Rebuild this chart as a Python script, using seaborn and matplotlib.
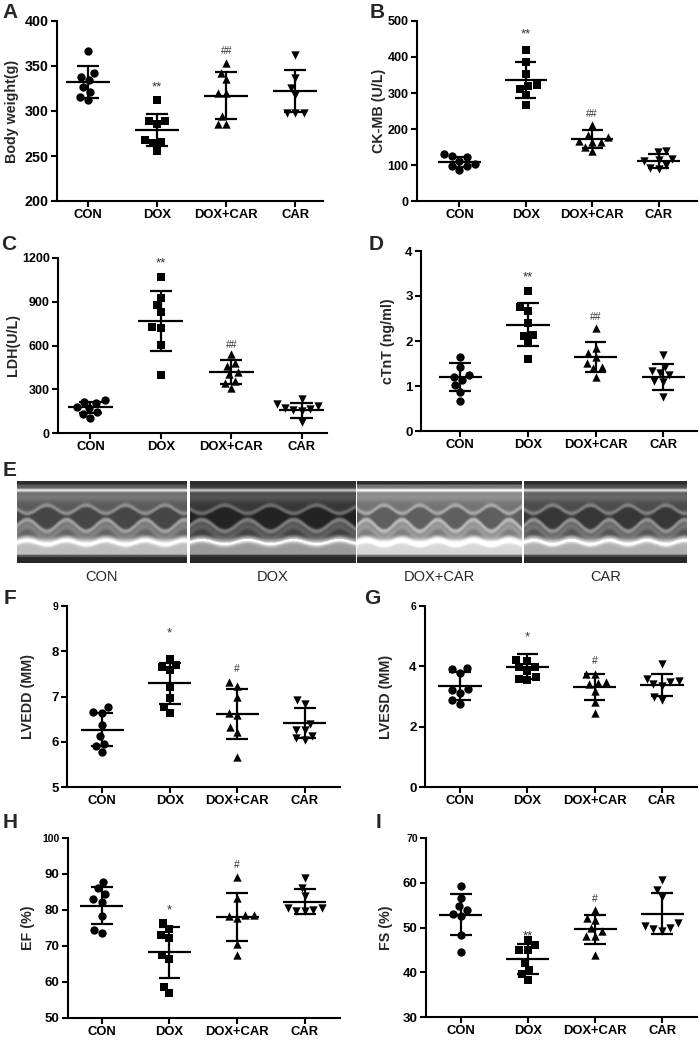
import numpy as np
import matplotlib
matplotlib.use("Agg")
import matplotlib.pyplot as plt
import seaborn as sns

sns.set_theme(style="ticks")
plt.rcParams["font.family"] = ["Liberation Sans", "DejaVu Sans"]

groups = ["CON", "DOX", "DOX+CAR", "CAR"]
markers = ["o", "s", "^", "v"]

# ---- A: body weight (g)
bw_con = [367, 342, 338, 334, 327, 321, 316, 312]
bw_dox = [312, 289, 289, 285, 268, 266, 264, 256]
bw_dc = [353, 342, 335, 320, 320, 294, 286, 286]
bw_car = [362, 337, 326, 318, 298, 298, 298]
bw_mean = [332, 279, 317, 322]
bw_sd = [18, 18, 26, 23]

# ---- B: CK-MB (U/L)
ck_con = [131, 124, 123, 112, 103, 98, 97, 86]
ck_dox = [419, 387, 354, 322, 319, 311, 294, 267]
ck_dc = [211, 184, 178, 168, 165, 163, 150, 138]
ck_car = [138, 137, 118, 114, 110, 100, 92, 90]
ck_mean = [108, 336, 172, 111]
ck_sd = [13, 50, 25, 20]

# ---- C: LDH (U/L)
ldh_con = [223, 216, 205, 175, 171, 141, 130, 102]
ldh_dox = [1070, 927, 877, 827, 724, 717, 604, 399]
ldh_dc = [540, 478, 460, 421, 405, 360, 346, 307]
ldh_car = [232, 200, 187, 171, 164, 155, 148, 73]
ldh_mean = [175, 770, 421, 155]
ldh_sd = [40, 206, 82, 52]

# ---- D: cTnT (ng/ml)
ct_con = [1.64, 1.43, 1.24, 1.21, 1.13, 1.02, 0.87, 0.67]
ct_dox = [3.12, 2.75, 2.67, 2.41, 2.13, 2.12, 1.95, 1.61]
ct_dc = [2.30, 1.85, 1.73, 1.65, 1.52, 1.43, 1.39, 1.21]
ct_car = [1.69, 1.43, 1.33, 1.28, 1.24, 1.11, 1.10, 0.76]
ct_mean = [1.20, 2.36, 1.65, 1.21]
ct_sd = [0.31, 0.48, 0.33, 0.29]

# ---- F: LVEDD (MM)
edd_con = [6.77, 6.66, 6.64, 6.36, 6.12, 5.96, 5.90, 5.77]
edd_dox = [7.82, 7.70, 7.65, 7.58, 7.21, 6.97, 6.77, 6.64]
edd_dc = [7.31, 7.23, 6.98, 6.64, 6.59, 6.33, 6.22, 5.66]
edd_car = [6.93, 6.84, 6.40, 6.27, 6.25, 6.12, 6.08, 6.03]
edd_mean = [6.27, 7.29, 6.62, 6.42]
edd_sd = [0.37, 0.45, 0.55, 0.33]

# ---- G: LVESD (MM)
esd_con = [3.95, 3.91, 3.77, 3.25, 3.22, 3.11, 2.89, 2.76]
esd_dox = [4.22, 4.17, 3.99, 3.97, 3.85, 3.64, 3.58, 3.55]
esd_dc = [3.75, 3.73, 3.47, 3.44, 3.40, 3.18, 2.83, 2.45]
esd_car = [4.08, 3.58, 3.51, 3.47, 3.40, 3.35, 3.00, 2.87]
esd_mean = [3.34, 3.99, 3.30, 3.39]
esd_sd = [0.46, 0.42, 0.43, 0.36]

# ---- H: EF (%)
ef_con = [87.9, 86.0, 84.5, 83.0, 82.3, 78.2, 74.5, 73.5]
ef_dox = [76.3, 74.7, 73.1, 72.2, 67.5, 66.4, 58.6, 56.9]
ef_dc = [89.1, 83.3, 78.6, 78.6, 78.4, 77.7, 70.6, 67.5]
ef_car = [88.8, 86.2, 84.0, 80.5, 80.5, 80.0, 79.8, 79.6]
ef_mean = [81.2, 68.2, 78.1, 82.3]
ef_sd = [5.2, 7.2, 6.7, 3.4]

# ---- I: FS (%)
fs_con = [59.2, 56.7, 54.7, 53.9, 53.1, 52.5, 48.3, 44.6]
fs_dox = [47.3, 46.1, 45.0, 45.0, 42.1, 40.5, 39.6, 38.3]
fs_dc = [54.0, 52.2, 51.6, 49.8, 49.3, 48.1, 48.1, 43.9]
fs_car = [60.7, 58.3, 56.8, 50.9, 50.3, 50.0, 49.6, 49.3]
fs_mean = [52.9, 43.0, 49.6, 53.1]
fs_sd = [4.6, 3.3, 3.2, 4.6]

# significance labels: (group index, text, y)
sig_A = [(1, "**", 326), (2, "##", 367)]
sig_B = [(1, "**", 462), (2, "##", 243)]
sig_C = [(1, "**", 1162), (2, "##", 604)]
sig_D = [(1, "**", 3.41), (2, "##", 2.53)]
sig_F = [(1, "*", 8.40), (2, "#", 7.60)]
sig_G = [(1, "*", 4.96), (2, "#", 4.19)]
sig_H = [(1, "*", 79.8), (2, "#", 92.5)]
sig_I = [(1, "**", 47.9), (2, "#", 56.4)]

W, H = 699, 1040
fig = plt.figure(figsize=(W / 100, H / 100), dpi=100)
fig.patch.set_facecolor("white")


def rect(x0, y0, x1, y1):
    return [x0 / W, 1 - y1 / H, (x1 - x0) / W, (y1 - y0) / H]


panels = [
    ("A", (57, 21, 323, 201), (-0.45, 3.4), (200, 400), [200, 250, 300, 350, 400], "Body weight(g)",
     [bw_con, bw_dox, bw_dc, bw_car], bw_mean, bw_sd, sig_A, (10, 13), False, 12, 10.3),
    ("B", (417, 21, 697, 201), (-0.64, 3.58), (0, 500), [0, 100, 200, 300, 400, 500], "CK-MB (U/L)",
     [ck_con, ck_dox, ck_dc, ck_car], ck_mean, ck_sd, sig_B, (377, 13), False, 379, 9),
    ("C", (58, 258, 327, 433), (-0.46, 3.36), (0, 1200), [0, 300, 600, 900, 1200], "LDH(U/L)",
     [ldh_con, ldh_dox, ldh_dc, ldh_car], ldh_mean, ldh_sd, sig_C, (9, 245), False, 13, 9),
    ("D", (421, 251, 697, 431), (-0.58, 3.5), (0, 4), [0, 1, 2, 3, 4], "cTnT (ng/ml)",
     [ct_con, ct_dox, ct_dc, ct_car], ct_mean, ct_sd, sig_D, (376, 245), False, 388, 9.5),
    ("F", (67, 606, 340, 787), (-0.52, 3.52), (5, 9), [5, 6, 7, 8, 9], "LVEDD (MM)",
     [edd_con, edd_dox, edd_dc, edd_car], edd_mean, edd_sd, sig_F, (10, 598), True, 28, 9.5),
    ("G", (425, 606, 697, 787), (-0.52, 3.52), (0, 6), [0, 2, 4, 6], "LVESD (MM)",
     [esd_con, esd_dox, esd_dc, esd_car], esd_mean, esd_sd, sig_G, (372, 598), True, 386, 9.5),
    ("H", (68, 838, 340, 1018), (-0.5, 3.52), (50, 100), [50, 60, 70, 80, 90, 100], "EF (%)",
     [ef_con, ef_dox, ef_dc, ef_car], ef_mean, ef_sd, sig_H, (10, 823), True, 28, 9.5),
    ("I", (426, 838, 697, 1017), (-0.52, 3.52), (30, 70), [30, 40, 50, 60, 70], "FS (%)",
     [fs_con, fs_dox, fs_dc, fs_car], fs_mean, fs_sd, sig_I, (378, 823), True, 386, 9.5),
]

for (letter, r, xl, yl, yt, ylab, data, means, sds, sigs, lpos, small_top, labx, ysz) in panels:
    ax = fig.add_axes(rect(*r))
    for i, (g, vals, m) in enumerate(zip(groups, data, markers)):
        sns.swarmplot(x=[g] * len(vals), y=vals, order=groups, marker=m, color="black",
                      size=6.0, ax=ax, warn_thresh=1.0)
    for i in range(4):
        mu, sd = means[i], sds[i]
        ax.hlines(mu, i - 0.32, i + 0.32, color="black", lw=1.6, zorder=5)
        ax.hlines([mu - sd, mu + sd], i - 0.16, i + 0.16, color="black", lw=1.6, zorder=5)
        ax.vlines(i, mu - sd, mu + sd, color="black", lw=1.6, zorder=5)
    for gi, txt, yv in sigs:
        fs = 9.5 if "*" in txt else 7.5
        ax.text(gi, yv, txt, ha="center", va="center", fontsize=fs, color="#333333")
    ax.set_xlim(*xl)
    ax.set_ylim(*yl)
    ax.set_yticks(yt)
    ax.set_xticks(range(4))
    ax.set_xticklabels(groups)
    ax.set_xlabel("")
    ax.set_ylabel(ylab, fontsize=10.3, fontweight="bold")
    ax.yaxis.label.set_va("center")
    ax.yaxis.set_label_coords((labx - r[0]) / (r[2] - r[0]), 0.5)
    for s in ["top", "right"]:
        ax.spines[s].set_visible(False)
    for s in ["left", "bottom"]:
        ax.spines[s].set_linewidth(1.5)
        ax.spines[s].set_color("black")
    ax.tick_params(direction="out", length=4, width=1.5, colors="black", pad=2)
    ax.tick_params(axis="x", labelsize=9.4)
    ax.tick_params(axis="y", labelsize=ysz)
    for lab in ax.get_xticklabels() + ax.get_yticklabels():
        lab.set_fontweight("bold")
    if small_top:
        ax.get_yticklabels()[-1].set_fontsize(7.5)
    ax.set_facecolor("white")
    fig.text(lpos[0] / W, 1 - lpos[1] / H, letter, fontsize=15, fontweight="bold",
             ha="center", va="center")

# ---- E: echocardiography placeholders (synthetic M-mode style pictures)
echo_boxes = [(17, 481, 187, 563), (190, 481, 355, 563), (357, 481, 522, 563), (524, 481, 687, 563)]
echo_base = [90, 55, 115, 75]
echo_beats = [4.3, 3.6, 4.6, 4.3]
fig.text(10 / W, 1 - 470 / H, "E", fontsize=15, fontweight="bold", ha="center", va="center")
for (box, base, beats, g) in zip(echo_boxes, echo_base, echo_beats, groups):
    ax = fig.add_axes(rect(*box))
    nx, ny = 240, 110
    xx = np.linspace(0, 1, nx)[None, :]
    yy = np.linspace(0, 1, ny)[:, None]
    ph = 2 * np.pi * beats * xx
    wave = 0.5 * (1 + np.sin(ph))
    img = np.full((ny, nx), float(base))

    def band(center, width, amp):
        return amp * np.exp(-((yy - center) / width) ** 2)

    img += band(0.12, 0.02, 140)
    img += band(0.2, 0.06, 30)
    sept = 0.30 + 0.10 * wave
    img += band(sept, 0.025, 55)
    post = 0.62 - 0.14 * wave
    img -= 20 * ((yy > sept + 0.03) & (yy < post - 0.03))
    img += band(post, 0.03, 70)
    img += band(post + 0.08, 0.05, 40)
    epi = 0.76 - 0.05 * wave
    img += band(epi, 0.04, 130)
    img += 100 * ((yy > epi) & (yy < 0.9))
    img[:int(ny * 0.06), :] = 45
    img[int(ny * 0.93):, :] = 40
    img = np.clip(img, 0, 255)
    ax.imshow(img, cmap="gray", vmin=0, vmax=255, aspect="auto", interpolation="bilinear")
    ax.set_xticks([])
    ax.set_yticks([])
    for s in ax.spines.values():
        s.set_visible(False)
    cx = (box[0] + box[2]) / 2
    fig.text(cx / W, 1 - 577 / H, g, fontsize=10.5, ha="center", va="center",
             family=["Liberation Sans Narrow", "Liberation Sans", "DejaVu Sans"])

fig.savefig("out.png", dpi=100, facecolor="white")
